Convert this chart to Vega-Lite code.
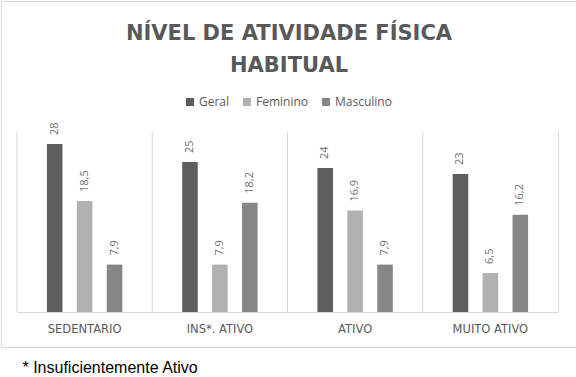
{
  "$schema": "https://vega.github.io/schema/vega-lite/v6.json",
  "width": 576,
  "height": 346,
  "autosize": {"type": "none"},
  "padding": {"left": 1, "top": 1, "right": 0, "bottom": 30},
  "background": "white",
  "config": {
    "view": {"stroke": "#d9d9d9", "strokeWidth": 1},
    "locale": {"number": {"decimal": ",", "thousands": ".", "grouping": [3], "currency": ["", ""]}}
  },
  "title": {
    "text": ["NÍVEL DE ATIVIDADE FÍSICA", "HABITUAL"],
    "orient": "top",
    "anchor": "middle",
    "frame": "group",
    "offset": -75,
    "font": "DejaVu Sans",
    "fontSize": 21,
    "fontWeight": "bold",
    "color": "#595959",
    "lineHeight": 32
  },
  "datasets": {
    "bars": [
      {"cat": "SEDENTARIO", "serie": "Geral", "value": 28},
      {"cat": "SEDENTARIO", "serie": "Feminino", "value": 18.5},
      {"cat": "SEDENTARIO", "serie": "Masculino", "value": 7.9},
      {"cat": "INS*.  ATIVO", "serie": "Geral", "value": 25},
      {"cat": "INS*.  ATIVO", "serie": "Feminino", "value": 7.9},
      {"cat": "INS*.  ATIVO", "serie": "Masculino", "value": 18.2},
      {"cat": "ATIVO", "serie": "Geral", "value": 24},
      {"cat": "ATIVO", "serie": "Feminino", "value": 16.9},
      {"cat": "ATIVO", "serie": "Masculino", "value": 7.9},
      {"cat": "MUITO ATIVO", "serie": "Geral", "value": 23},
      {"cat": "MUITO ATIVO", "serie": "Feminino", "value": 6.5},
      {"cat": "MUITO ATIVO", "serie": "Masculino", "value": 16.2}
    ],
    "seps": [
      {"cat": "SEDENTARIO"},
      {"cat": "INS*.  ATIVO"},
      {"cat": "ATIVO"},
      {"cat": "MUITO ATIVO"}
    ]
  },
  "layer": [
    {
      "data": {"name": "seps"},
      "mark": {"type": "rule", "color": "#d9d9d9", "strokeWidth": 1},
      "encoding": {
        "x": {
          "field": "cat",
          "type": "nominal",
          "bandPosition": 0,
          "sort": ["SEDENTARIO", "INS*.  ATIVO", "ATIVO", "MUITO ATIVO"],
          "scale": {"range": [16, 557], "paddingInner": 0, "paddingOuter": 0},
          "axis": {
            "title": "* Insuficientemente Ativo",
            "titleFont": "Liberation Sans",
            "titleFontSize": 16,
            "titleFontWeight": "normal",
            "titleColor": "#000000",
            "titleAnchor": "start",
            "titleAlign": "left",
            "titleBaseline": "alphabetic",
            "titleX": 21,
            "titleY": 60,
            "offset": -35,
            "labelAngle": 0,
            "labelFont": "DejaVu Sans",
            "labelFontSize": 11.5,
            "labelColor": "#595959",
            "labelPadding": 11,
            "ticks": false,
            "domainColor": "#d9d9d9",
            "grid": false
          }
        },
        "y": {
          "datum": 0,
          "type": "quantitative",
          "scale": {"domain": [0, 30], "range": [311, 131], "nice": false, "zero": true},
          "axis": {"orient": "right", "offset": -19, "title": null, "labels": false, "ticks": false, "grid": false, "domain": true, "domainColor": "#d9d9d9"}
        },
        "y2": {"datum": 30}
      }
    },
    {
      "data": {"name": "bars"},
      "mark": {"type": "bar"},
      "encoding": {
        "x": {
          "field": "cat",
          "type": "nominal",
          "sort": ["SEDENTARIO", "INS*.  ATIVO", "ATIVO", "MUITO ATIVO"],
          "scale": {"range": [16, 557], "paddingInner": 0, "paddingOuter": 0},
          "axis": {
            "title": "* Insuficientemente Ativo",
            "titleFont": "Liberation Sans",
            "titleFontSize": 16,
            "titleFontWeight": "normal",
            "titleColor": "#000000",
            "titleAnchor": "start",
            "titleAlign": "left",
            "titleBaseline": "alphabetic",
            "titleX": 21,
            "titleY": 60,
            "offset": -35,
            "labelAngle": 0,
            "labelFont": "DejaVu Sans",
            "labelFontSize": 11.5,
            "labelColor": "#595959",
            "labelPadding": 11,
            "ticks": false,
            "domainColor": "#d9d9d9",
            "grid": false
          }
        },
        "xOffset": {
          "field": "serie",
          "type": "nominal",
          "sort": ["Geral", "Feminino", "Masculino"],
          "scale": {"paddingInner": 0.48, "paddingOuter": 1.18}
        },
        "y": {
          "field": "value",
          "type": "quantitative",
          "scale": {"domain": [0, 30], "range": [311, 131], "nice": false, "zero": true},
          "axis": {"orient": "right", "offset": -19, "title": null, "labels": false, "ticks": false, "grid": false, "domain": true, "domainColor": "#d9d9d9"}
        },
        "color": {
          "field": "serie",
          "type": "nominal",
          "sort": ["Geral", "Feminino", "Masculino"],
          "scale": {"domain": ["Geral", "Feminino", "Masculino"], "range": ["#5e5e5e", "#b1b1b1", "#868686"]},
          "legend": {
            "title": null,
            "orient": "none",
            "legendX": 183,
            "legendY": 95,
            "direction": "horizontal",
            "symbolType": "square",
            "symbolSize": 64,
            "symbolStrokeWidth": 0,
            "labelFont": "Open Sans",
            "labelFontSize": 12,
            "labelColor": "#595959",
            "labelOffset": 3,
            "columnPadding": 11,
            "padding": 0
          }
        }
      }
    },
    {
      "data": {"name": "bars"},
      "mark": {
        "type": "text",
        "angle": 270,
        "align": "left",
        "baseline": "middle",
        "dx": 9,
        "font": "Open Sans",
        "fontSize": 11,
        "color": "#6f6f6f"
      },
      "encoding": {
        "x": {
          "field": "cat",
          "type": "nominal",
          "sort": ["SEDENTARIO", "INS*.  ATIVO", "ATIVO", "MUITO ATIVO"],
          "scale": {"range": [16, 557], "paddingInner": 0, "paddingOuter": 0},
          "axis": {
            "title": "* Insuficientemente Ativo",
            "titleFont": "Liberation Sans",
            "titleFontSize": 16,
            "titleFontWeight": "normal",
            "titleColor": "#000000",
            "titleAnchor": "start",
            "titleAlign": "left",
            "titleBaseline": "alphabetic",
            "titleX": 21,
            "titleY": 60,
            "offset": -35,
            "labelAngle": 0,
            "labelFont": "DejaVu Sans",
            "labelFontSize": 11.5,
            "labelColor": "#595959",
            "labelPadding": 11,
            "ticks": false,
            "domainColor": "#d9d9d9",
            "grid": false
          }
        },
        "xOffset": {
          "field": "serie",
          "type": "nominal",
          "sort": ["Geral", "Feminino", "Masculino"],
          "scale": {"paddingInner": 0.48, "paddingOuter": 1.18}
        },
        "y": {
          "field": "value",
          "type": "quantitative",
          "scale": {"domain": [0, 30], "range": [311, 131], "nice": false, "zero": true},
          "axis": {"orient": "right", "offset": -19, "title": null, "labels": false, "ticks": false, "grid": false, "domain": true, "domainColor": "#d9d9d9"}
        },
        "text": {"field": "value", "type": "quantitative", "format": ".1~f"}
      }
    }
  ]
}
